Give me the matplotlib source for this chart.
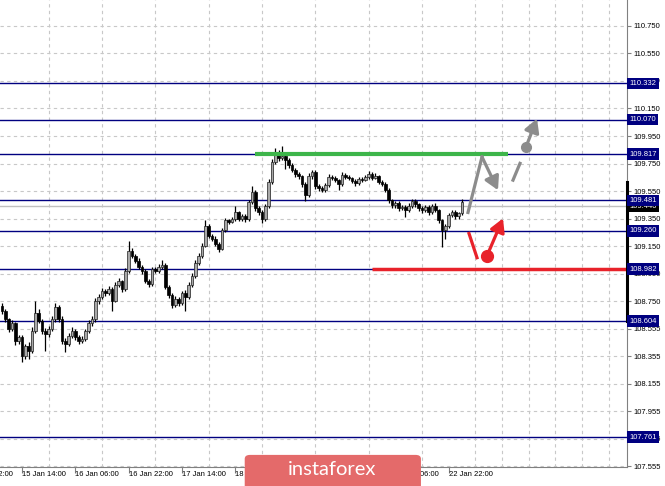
import numpy as np
import matplotlib.pyplot as plt
from matplotlib.transforms import blended_transform_factory
from matplotlib.patches import FancyBboxPatch

# hourly USDJPY candles
first_open = 108.713
closes = [108.676, 108.618, 108.545, 108.589, 108.456, 108.486, 108.347, 108.420, 108.383, 108.530,
          108.662, 108.603, 108.530, 108.508, 108.545, 108.618, 108.706, 108.618, 108.456, 108.434,
          108.493, 108.530, 108.486, 108.456, 108.471, 108.530, 108.589, 108.618, 108.750, 108.779,
          108.823, 108.808, 108.838, 108.750, 108.867, 108.896, 108.838, 108.970, 109.116, 109.079,
          109.043, 108.999, 108.970, 108.896, 108.874, 108.984, 108.970, 108.999, 109.013, 108.852,
          108.794, 108.720, 108.764, 108.735, 108.808, 108.779, 108.867, 108.933, 109.028, 109.079,
          109.153, 109.299, 109.226, 109.204, 109.167, 109.131, 109.263, 109.336, 109.328, 109.343,
          109.394, 109.350, 109.365, 109.343, 109.468, 109.541, 109.424, 109.394, 109.350, 109.438,
          109.614, 109.761, 109.834, 109.790, 109.805, 109.776, 109.739, 109.702, 109.673, 109.658,
          109.600, 109.519, 109.658, 109.688, 109.585, 109.570, 109.556, 109.592, 109.651, 109.644,
          109.629, 109.600, 109.666, 109.651, 109.644, 109.622, 109.607, 109.636, 109.629, 109.651,
          109.673, 109.644, 109.658, 109.614, 109.600, 109.556, 109.482, 109.446, 109.460, 109.424,
          109.431, 109.409, 109.438, 109.475, 109.453, 109.424, 109.409, 109.431, 109.394, 109.438,
          109.409, 109.336, 109.263, 109.292, 109.372, 109.394, 109.365, 109.387, 109.468]
highs = [108.735, 108.690, 108.630, 108.610, 108.600, 108.505, 108.500, 108.440, 108.450, 108.560,
         108.750, 108.690, 108.620, 108.555, 108.570, 108.640, 108.735, 108.720, 108.640, 108.480,
         108.520, 108.560, 108.550, 108.500, 108.495, 108.550, 108.610, 108.640, 108.770, 108.800,
         108.845, 108.835, 108.860, 108.850, 108.885, 108.915, 108.905, 108.990, 109.190, 109.135,
         109.095, 109.060, 109.015, 108.985, 108.910, 109.000, 109.000, 109.020, 109.045, 109.025,
         108.865, 108.805, 108.785, 108.780, 108.825, 108.830, 108.885, 108.955, 109.050, 109.100,
         109.175, 109.340, 109.310, 109.240, 109.220, 109.180, 109.280, 109.355, 109.350, 109.360,
         109.440, 109.405, 109.385, 109.380, 109.485, 109.585, 109.555, 109.440, 109.410, 109.455,
         109.635, 109.780, 109.860, 109.850, 109.880, 109.820, 109.790, 109.755, 109.720, 109.690,
         109.670, 109.615, 109.680, 109.705, 109.700, 109.600, 109.585, 109.610, 109.675, 109.670,
         109.660, 109.640, 109.690, 109.680, 109.665, 109.655, 109.635, 109.655, 109.650, 109.670,
         109.695, 109.685, 109.680, 109.670, 109.630, 109.615, 109.570, 109.495, 109.480, 109.475,
         109.450, 109.445, 109.460, 109.495, 109.490, 109.465, 109.440, 109.450, 109.445, 109.455,
         109.460, 109.420, 109.350, 109.310, 109.390, 109.415, 109.410, 109.400, 109.490]
lows = [108.655, 108.600, 108.525, 108.530, 108.430, 108.440, 108.310, 108.325, 108.330, 108.370,
        108.520, 108.590, 108.510, 108.390, 108.490, 108.530, 108.600, 108.600, 108.440, 108.380,
        108.420, 108.480, 108.470, 108.440, 108.445, 108.460, 108.520, 108.570, 108.600, 108.730,
        108.765, 108.790, 108.795, 108.680, 108.740, 108.850, 108.815, 108.825, 108.955, 109.060,
        109.025, 108.985, 108.950, 108.880, 108.850, 108.860, 108.955, 108.955, 108.985, 108.835,
        108.775, 108.700, 108.705, 108.715, 108.720, 108.680, 108.765, 108.850, 108.920, 109.010,
        109.060, 109.140, 109.210, 109.190, 109.150, 109.110, 109.120, 109.250, 109.310, 109.315,
        109.330, 109.335, 109.335, 109.325, 109.330, 109.455, 109.405, 109.375, 109.320, 109.335,
        109.425, 109.600, 109.745, 109.770, 109.775, 109.710, 109.720, 109.685, 109.655, 109.640,
        109.580, 109.480, 109.505, 109.640, 109.565, 109.550, 109.540, 109.545, 109.580, 109.630,
        109.615, 109.560, 109.590, 109.640, 109.630, 109.610, 109.590, 109.595, 109.615, 109.620,
        109.640, 109.630, 109.635, 109.600, 109.585, 109.540, 109.465, 109.425, 109.430, 109.405,
        109.410, 109.360, 109.395, 109.425, 109.435, 109.405, 109.390, 109.395, 109.375, 109.380,
        109.395, 109.315, 109.140, 109.200, 109.280, 109.360, 109.345, 109.350, 109.375]

# horizontal levels and their right-hand labels
levels = [110.332, 110.070, 109.817, 109.481, 109.260, 108.982, 108.604, 107.761]
bid_price = 109.440
bar_range = (108.605, 109.615)

ytick_vals = [110.75, 110.55, 110.35, 110.15, 109.95, 109.75, 109.55, 109.35, 109.15,
              108.95, 108.75, 108.55, 108.35, 108.15, 107.95, 107.75, 107.55]
ytick_text = ["110.750", "110.550", "110.350", "110.150", "109.950", "109.750", "109.550",
              "109.350", "109.150", "108.950", "108.750", "108.555", "108.355", "108.155",
              "107.955", "107.755", "107.555"]

label_bars = [-10, 6, 22, 38, 54, 70, 86, 102, 118, 134]
label_text = ["14 Jan 22:00", "15 Jan 14:00", "16 Jan 06:00", "16 Jan 22:00", "17 Jan 14:00",
              "18 Jan 06:00", "18 Jan 22:00", "21 Jan 14:00", "22 Jan 06:00", "22 Jan 22:00"]
grid_bars = list(range(-2, 188, 8))

# forecast drawings (bar index, price)
green_span = (75.9, 151.8, 109.817)
red_span = (111.0, 187.5, 108.982)
gray_path_x = [139.8, 144.0, 148.8]
gray_path_y = [109.394, 109.798, 109.556]
gray_dash_x = [153.3, 155.4]
gray_dash_y = [109.629, 109.751]
gray_dot = (157.2, 109.871)
gray_tip = (160.5, 110.076)
red_stroke_x = [140.1, 142.5]
red_stroke_y = [109.241, 109.065]
red_dot = (145.5, 109.079)
red_tip = (150.3, 109.351)

NAVY = "#000080"
GRAY = "#8c8c8c"
RED = "#e8222a"
FONT = "Liberation Sans"

fig = plt.figure(figsize=(6.65, 4.86), dpi=100)
ax = fig.add_axes([0, 19 / 486, 627 / 665, 467 / 486])

# candles
x = np.arange(len(closes))
c = np.array(closes)
o = np.array([first_open] + closes[:-1])
up = c >= o
ax.vlines(x, lows, highs, color="black", lw=0.9, zorder=3)
body = np.maximum(np.abs(c - o), 0.005)
ax.bar(x[up], body[up], bottom=o[up], width=0.72, color="#a8a8a8",
       edgecolor="#202020", lw=0.5, zorder=4)
ax.bar(x[~up], body[~up], bottom=c[~up], width=0.72, color="black",
       edgecolor="black", lw=0.5, zorder=4)

# levels
for lv in levels:
    ax.axhline(lv, color=NAVY, lw=1, zorder=2)
ax.axhline(bid_price, color="#c0c0c0", lw=1, zorder=1.9)
ax.hlines(green_span[2], green_span[0], green_span[1], color="#3db54a", lw=3, zorder=5)
ax.hlines(red_span[2], red_span[0], red_span[1], color=RED, lw=2.5, zorder=5)

# forecast arrows
astyle = "-|>,head_length=0.5,head_width=0.28"
ax.plot(gray_path_x[:2], gray_path_y[:2], color=GRAY, lw=2.3, zorder=6)
ax.annotate("", xy=(gray_path_x[2], gray_path_y[2]), xytext=(gray_path_x[1], gray_path_y[1]),
            arrowprops=dict(arrowstyle=astyle, color=GRAY, lw=2.3, mutation_scale=16,
                            shrinkA=0, shrinkB=0), zorder=6)
ax.plot(gray_dash_x, gray_dash_y, color=GRAY, lw=2.3, zorder=6)
ax.plot(*gray_dot, "o", color=GRAY, ms=7, zorder=6)
ax.annotate("", xy=gray_tip, xytext=gray_dot,
            arrowprops=dict(arrowstyle=astyle, color=GRAY, lw=2.3, mutation_scale=16,
                            shrinkA=0, shrinkB=0), zorder=6)
ax.plot(red_stroke_x, red_stroke_y, color=RED, lw=2.3, zorder=6)
ax.plot(*red_dot, "o", color=RED, ms=8.5, zorder=6)
ax.annotate("", xy=red_tip, xytext=red_dot,
            arrowprops=dict(arrowstyle=astyle, color=RED, lw=2.3, mutation_scale=16,
                            shrinkA=0, shrinkB=0), zorder=6)

# grid
ax.set_xticks(label_bars)
ax.set_xticks(grid_bars, minor=True)
ax.tick_params(axis="x", which="major", length=4, color="#808080", labelbottom=False)
ax.tick_params(axis="x", which="minor", length=0)
ax.grid(axis="x", which="minor", color="#c8c8c8", ls=(0, (3, 3)), lw=0.8)
ax.yaxis.tick_right()
ax.set_yticks(ytick_vals)
ax.set_yticklabels(ytick_text, fontsize=5.5, family=FONT)
ax.tick_params(axis="y", length=3, color="#808080", pad=1.5)
ax.grid(axis="y", which="major", color="#c8c8c8", ls=(0, (3, 3)), lw=0.8)
ax.set_axisbelow(True)

# limits after the ticks, so set_xticks does not widen the view
ax.set_xlim(-0.6, 187.5)
ax.set_ylim(107.543, 110.939)

for s in ["top", "left"]:
    ax.spines[s].set_visible(False)
for s in ["right", "bottom"]:
    ax.spines[s].set_color("#808080")

ax_y = blended_transform_factory(ax.transAxes, ax.transData)
ax_x = blended_transform_factory(ax.transData, ax.transAxes)
ax.plot([1, 1], bar_range, transform=ax_y, color="black", lw=2.2, clip_on=False, zorder=7)

for b, t in zip(label_bars, label_text):
    ax.text(b, -0.009, t, transform=ax_x, ha="left", va="top", fontsize=5.5, family=FONT)

# price boxes on the right
ax.text(1.004, bid_price, "109.440", transform=ax_y, ha="left", va="center", fontsize=5.5,
        family=FONT, color="white", zorder=8,
        bbox=dict(boxstyle="square,pad=0.3", fc="black", ec="none"))
for lv in levels:
    ax.text(1.004, lv, f"{lv:.3f}", transform=ax_y, ha="left", va="center", fontsize=5.5,
            family=FONT, color="white", zorder=9,
            bbox=dict(boxstyle="square,pad=0.3", fc=NAVY, ec="none"))

# watermark
fig.patches.append(FancyBboxPatch((0.368, -0.02), 0.265, 0.084,
                                  boxstyle="round,pad=0,rounding_size=0.008",
                                  transform=fig.transFigure, fc="#e46a6a", ec="none"))
fig.text(0.5, 0.033, "instaforex", color="white", fontsize=14.5, family="Lato",
         ha="center", va="center")

fig.savefig("out.png", dpi=100)
